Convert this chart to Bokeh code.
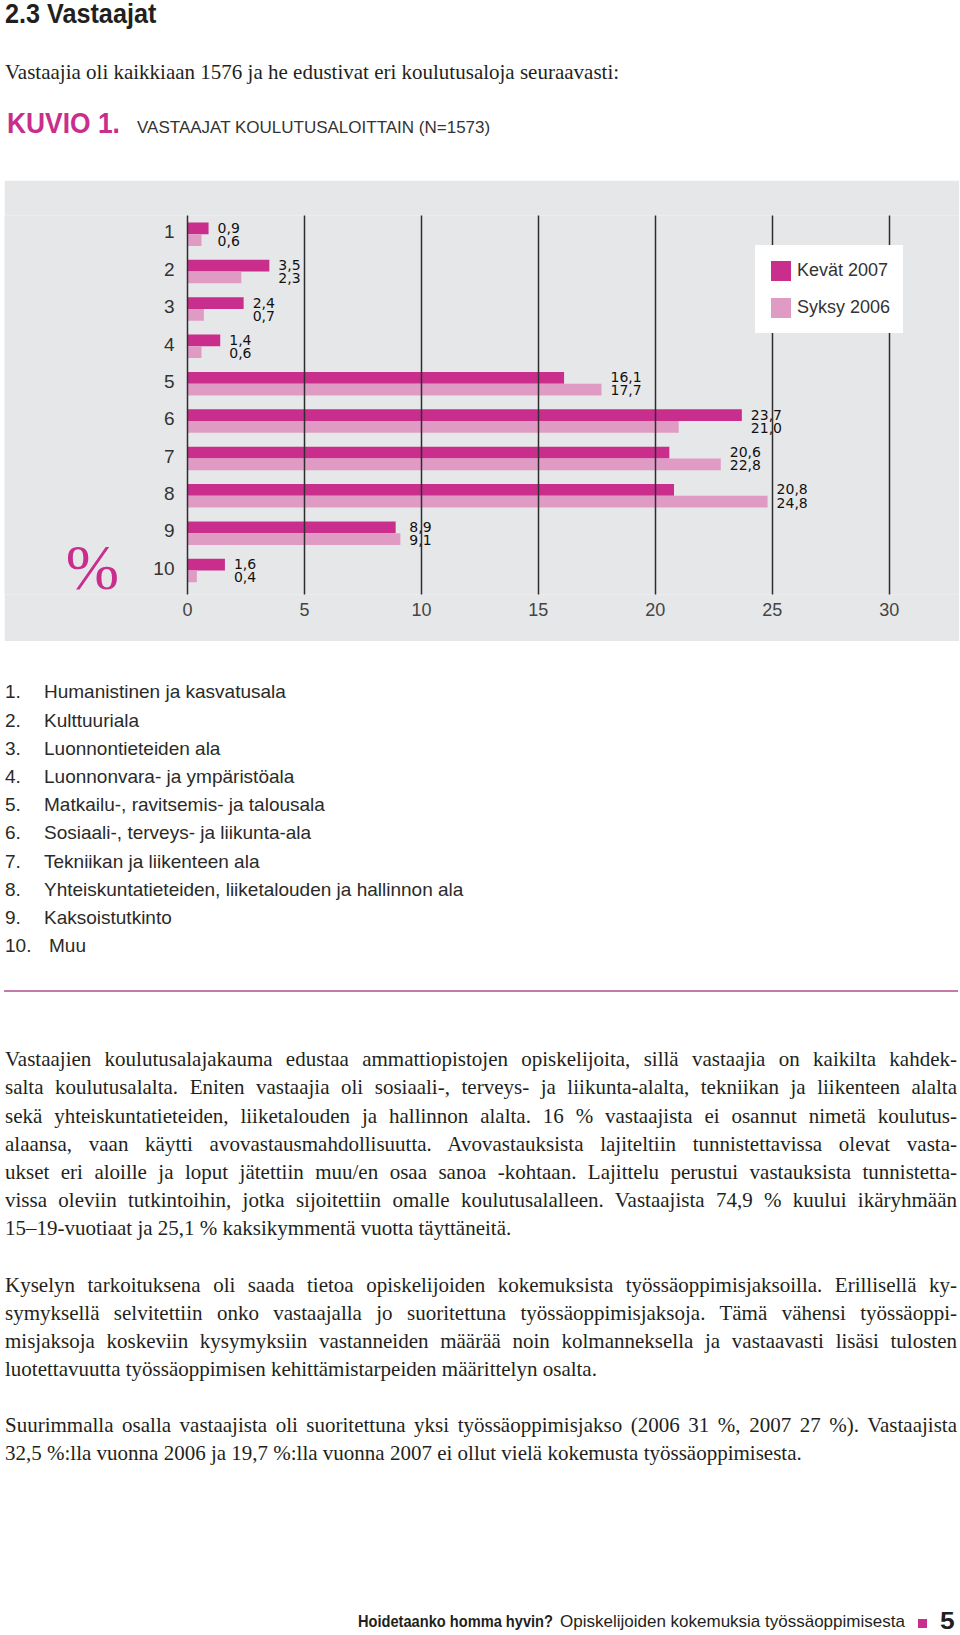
from bokeh.plotting import figure
from bokeh.models import Range1d, FixedTicker, ColumnDataSource, Div
from bokeh.layouts import column
from bokeh.transform import dodge
from bokeh.core.properties import value
from bokeh.embed import file_html
from bokeh.resources import INLINE

# ---------------- data ----------------
rows = [1, 2, 3, 4, 5, 6, 7, 8, 9, 10]
categories = ["1", "2", "3", "4", "5", "6", "7", "8", "9", "10"]
kevat_2007 = [0.9, 3.5, 2.4, 1.4, 16.1, 23.7, 20.6, 20.8, 8.9, 1.6]
syksy_2006 = [0.6, 2.3, 0.7, 0.6, 17.7, 21.0, 22.8, 24.8, 9.1, 0.4]
series_names = ["Kevät 2007", "Syksy 2006"]
x_ticks = [0, 5, 10, 15, 20, 25, 30]
field_names = [
    "Humanistinen ja kasvatusala",
    "Kulttuuriala",
    "Luonnontieteiden ala",
    "Luonnonvara- ja ympäristöala",
    "Matkailu-, ravitsemis- ja talousala",
    "Sosiaali-, terveys- ja liikunta-ala",
    "Tekniikan ja liikenteen ala",
    "Yhteiskuntatieteiden, liiketalouden ja hallinnon ala",
    "Kaksoistutkinto",
    "Muu",
]

title_text = "2.3 Vastaajat"
intro_text = "Vastaajia oli kaikkiaan 1576 ja he edustivat eri koulutusaloja seuraavasti:"
fig_label = "KUVIO 1."
fig_title = "VASTAAJAT KOULUTUSALOITTAIN (N=1573)"

para1 = [
    "Vastaajien koulutusalajakauma edustaa ammattiopistojen opiskelijoita, sillä vastaajia on kaikilta kahdek-",
    "salta koulutusalalta. Eniten vastaajia oli sosiaali-, terveys- ja liikunta-alalta, tekniikan ja liikenteen alalta",
    "sekä yhteiskuntatieteiden, liiketalouden ja hallinnon alalta. 16 % vastaajista ei osannut nimetä koulutus-",
    "alaansa, vaan käytti avovastausmahdollisuutta. Avovastauksista lajiteltiin tunnistettavissa olevat vasta-",
    "ukset eri aloille ja loput jätettiin muu/en osaa sanoa -kohtaan. Lajittelu perustui vastauksista tunnistetta-",
    "vissa oleviin tutkintoihin, jotka sijoitettiin omalle koulutusalalleen. Vastaajista 74,9 % kuului ikäryhmään",
    "15–19-vuotiaat ja 25,1 % kaksikymmentä vuotta täyttäneitä.",
]
para2 = [
    "Kyselyn tarkoituksena oli saada tietoa opiskelijoiden kokemuksista työssäoppimisjaksoilla. Erillisellä ky-",
    "symyksellä selvitettiin onko vastaajalla jo suoritettuna työssäoppimisjaksoja. Tämä vähensi työssäoppi-",
    "misjaksoja koskeviin kysymyksiin vastanneiden määrää noin kolmanneksella ja vastaavasti lisäsi tulosten",
    "luotettavuutta työssäoppimisen kehittämistarpeiden määrittelyn osalta.",
]
para3 = [
    "Suurimmalla osalla vastaajista oli suoritettuna yksi työssäoppimisjakso (2006 31 %, 2007 27 %). Vastaajista",
    "32,5 %:lla vuonna 2006 ja 19,7 %:lla vuonna 2007 ei ollut vielä kokemusta työssäoppimisesta.",
]
footer_bold = "Hoidetaanko homma hyvin?"
footer_regular = "Opiskelijoiden kokemuksia työssäoppimisesta"
page_number = "5"

# ---------------- styles ----------------
DARK = "#c92e8d"
LIGHT = "#e09bc4"
GREY = "#e6e7e9"
INK = "#231f20"
SANS = "Liberation Sans"
SANS_CSS = "'Liberation Sans', sans-serif"
SERIF = "'Liberation Serif', serif"


def top_for(baseline, size, lh, asc=0.905, desc=0.212):
    return baseline - ((lh - (asc + desc) * size) / 2 + asc * size)


def line(text, baseline, left, size, family, color=INK, weight="normal",
         asc=0.905, desc=0.212, width=None, justify=False, extra=""):
    lh = round(size * 1.3, 2)
    t = top_for(baseline, size, lh, asc, desc)
    w = f"width:{width}px;" if width else ""
    j = "text-align:justify;text-align-last:justify;" if justify else ""
    return (f'<div style="position:absolute;left:{left}px;top:{t:.2f}px;{w}'
            f'font-family:{family};font-size:{size}px;line-height:{lh}px;'
            f'font-weight:{weight};color:{color};white-space:nowrap;{j}{extra}">{text}</div>')


def squeeze(s):
    return f"transform:scaleX({s});transform-origin:0 50%;"


# ---------------- header div (page y 0..180) ----------------
hdr = []
hdr.append(line(title_text, 24, 5, 28, SANS_CSS, INK, "bold", extra=squeeze(0.9)))
hdr.append(line(intro_text, 80, 5, 21, SERIF, INK, asc=0.891, desc=0.216))
hdr.append(line(fig_label, 134, 7, 29, SANS_CSS, DARK, "bold", extra=squeeze(0.91)))
hdr.append(line(fig_title, 134, 137, 17, SANS_CSS, "#333"))
header = Div(text='<div style="position:relative;width:960px;height:180px;">' + "".join(hdr) + "</div>",
             width=960, height=180, margin=(0, 0, 0, 0))

# ---------------- chart (page y 180..641, x 4..959) ----------------
FIG_W = 955
PX_PER_UNIT = 701.7 / 30.0
x0 = -(187.0 - 4.0) / PX_PER_UNIT
x1 = x0 + FIG_W / PX_PER_UNIT

p = figure(width=FIG_W, height=461, output_backend="svg", toolbar_location=None,
           x_range=Range1d(x0, x1), y_range=Range1d(10.64, 0.5),
           y_axis_location=None, x_axis_location="below",
           min_border_left=0, min_border_right=0, min_border_top=35, min_border_bottom=47,
           background_fill_color=GREY, border_fill_color=GREY, outline_line_color=None,
           margin=(0, 1, 0, 4))

fmt = lambda v: f"{v:.1f}".replace(".", ",")
src = ColumnDataSource(dict(
    row=rows, cat=categories, k=kevat_2007, s=syksy_2006,
    kt=[fmt(v) for v in kevat_2007], st=[fmt(v) for v in syksy_2006],
    mx=[max(a, b) for a, b in zip(kevat_2007, syksy_2006)],
    zero=[0] * len(rows),
))

p.hbar(y=dodge("row", -0.157), left=0, right="k", height=0.313, source=src,
       fill_color=DARK, line_color=None, legend_label=series_names[0])
p.hbar(y=dodge("row", 0.157), left=0, right="s", height=0.313, source=src,
       fill_color=LIGHT, line_color=None, legend_label=series_names[1])

p.text(x="mx", y=dodge("row", -0.17), text="kt", source=src, x_offset=9,
       text_font=value("DejaVu Sans"), text_font_size="14px", text_color="#111111",
       text_baseline="middle", text_align="left")
p.text(x="mx", y=dodge("row", 0.18), text="st", source=src, x_offset=9,
       text_font=value("DejaVu Sans"), text_font_size="14px", text_color="#111111",
       text_baseline="middle", text_align="left")

p.text(x="zero", y=dodge("row", -0.06), text="cat", source=src, x_offset=-13,
       text_font=value(SANS), text_font_size="19px", text_color="#333",
       text_baseline="middle", text_align="right")

p.text(x=[0], y=[10], text=["%"], x_offset=-95, y_offset=-3,
       text_font=value("Liberation Serif"), text_font_size="64px", text_color=DARK,
       text_baseline="middle", text_align="center")

p.xgrid.ticker = FixedTicker(ticks=x_ticks)
p.xgrid.grid_line_color = "#2e2e2e"
p.xgrid.grid_line_width = 1.5
p.xgrid.level = "guide"
p.ygrid.visible = False

ax = p.xaxis[0]
ax.ticker = FixedTicker(ticks=x_ticks)
ax.axis_line_color = None
ax.major_tick_line_color = None
ax.minor_tick_line_color = None
ax.major_tick_out = 0
ax.major_tick_in = 0
ax.major_label_standoff = 8
ax.major_label_text_font = SANS
ax.major_label_text_font_size = "18px"
ax.major_label_text_color = "#444"

lg = p.legend[0]
lg.location = (751, 261)
lg.background_fill_color = "white"
lg.background_fill_alpha = 1.0
lg.border_line_color = "white"
lg.border_line_width = 1
lg.glyph_width = 25
lg.glyph_height = 25
lg.label_height = 25
lg.spacing = 12
lg.padding = 12
lg.margin = 0
lg.label_standoff = 4
lg.label_text_font = SANS
lg.label_text_font_size = "18px"
lg.label_text_color = "#333"

# ---------------- lower div (page y 641..1635) ----------------
B = 641
low = []
for i, (num, name) in enumerate(zip(categories, field_names)):
    bl = 699.3 + i * 28.2 - B
    low.append(line(num + ".", bl, 5, 19, SANS_CSS, "#2a2a2a"))
    low.append(line(name, bl, 49 if num == "10" else 44, 19, SANS_CSS, "#2a2a2a"))

low.append(f'<div style="position:absolute;left:4px;top:{990 - B}px;width:954px;height:2px;background:#c27aa8;"></div>')


def para(lines, first_baseline):
    out = []
    for i, t in enumerate(lines):
        last = i == len(lines) - 1
        extra = "word-spacing:-2px;" if len(t) > 107 else ""
        out.append(line(t, first_baseline + i * 28.2 - B, 5, 21, SERIF, INK,
                        asc=0.891, desc=0.216, width=952, justify=not last, extra=extra))
    return out


low += para(para1, 1067)
low += para(para2, 1292.5)
low += para(para3, 1432.5)

fb = 1628 - B
low.append(line(footer_bold, fb, 358, 17, SANS_CSS, INK, "bold", extra=squeeze(0.86)))
low.append(line(footer_regular, fb, 560, 17, SANS_CSS, INK))
low.append(f'<div style="position:absolute;left:918px;top:{1619 - B}px;width:9px;height:9px;background:{DARK};"></div>')
low.append(line(page_number, fb + 1, 940, 24, SANS_CSS, INK, "bold", extra="transform:scaleX(1.1);transform-origin:0 50%;"))

lower = Div(text='<div style="position:relative;width:960px;height:994px;">' + "".join(low) + "</div>",
            width=960, height=994, margin=(0, 0, 0, 0))

layout = column(header, p, lower, spacing=0)
open("out.html", "w").write(file_html(layout, INLINE))
